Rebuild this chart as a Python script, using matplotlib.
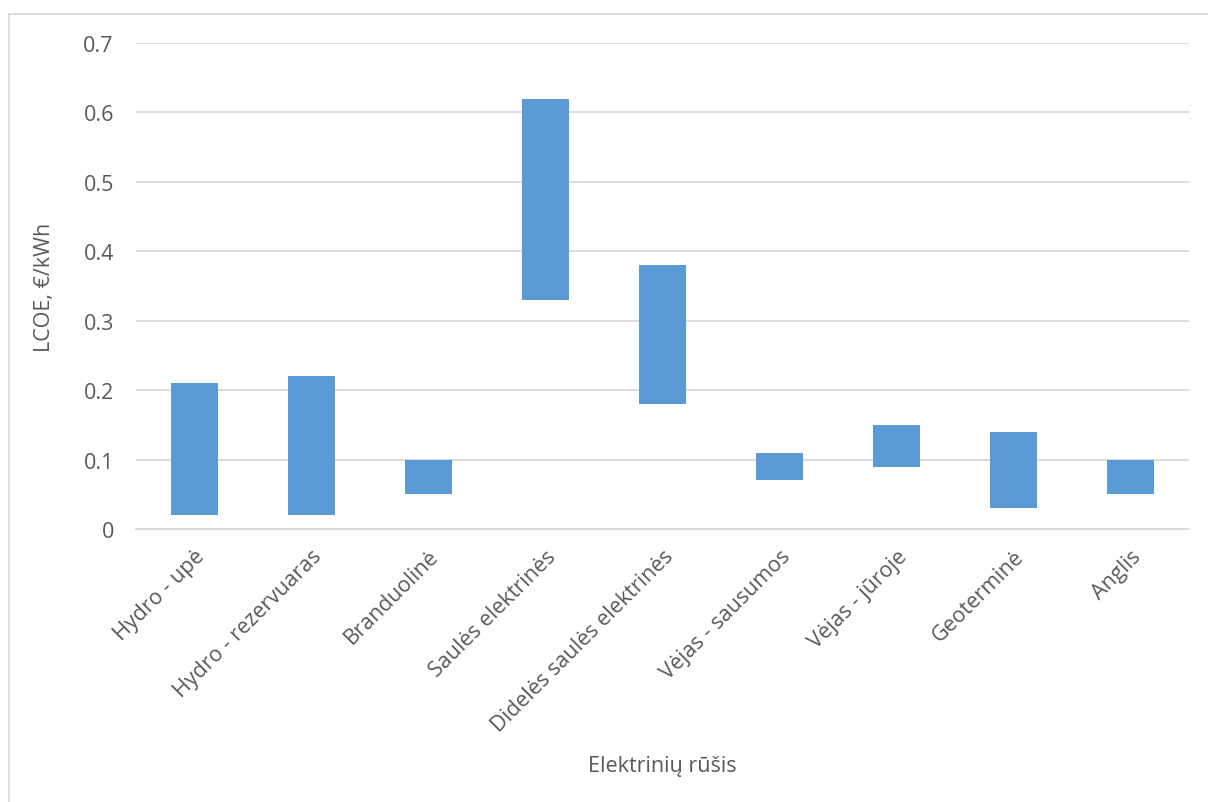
import matplotlib.pyplot as plt
from matplotlib.patches import Rectangle

categories = ["Hydro - upė", "Hydro - rezervuaras", "Branduolinė", "Saulės elektrinės",
              "Didelės saulės elektrinės", "Vėjas - sausumos", "Vėjas - jūroje",
              "Geoterminė", "Anglis"]
low = [0.02, 0.02, 0.05, 0.33, 0.18, 0.07, 0.09, 0.03, 0.05]
high = [0.21, 0.22, 0.10, 0.62, 0.38, 0.11, 0.15, 0.14, 0.10]
yticks = [0, 0.1, 0.2, 0.3, 0.4, 0.5, 0.6, 0.7]
ytick_labels = ["0", "0.1", "0.2", "0.3", "0.4", "0.5", "0.6", "0.7"]

plt.rcParams['font.family'] = ['Open Sans', 'DejaVu Sans']
text_color = "#595959"
fs = 15.5

fig = plt.figure(figsize=(12.08, 8.03), dpi=100)
ax = fig.add_axes([136/1208, 1 - 530/803, 1053/1208, (530-44)/803])

x = list(range(len(categories)))
heights = [h - l for h, l in zip(high, low)]
ax.bar(x, heights, bottom=low, width=0.4, color="#5B9BD5", zorder=3)

ax.set_xlim(-0.5, len(categories) - 0.5)
ax.set_ylim(0, 0.7)
ax.set_yticks(yticks)
ax.set_yticklabels(ytick_labels)
ax.set_xticks(x)
ax.set_xticklabels(categories, rotation=45, ha="right", rotation_mode="anchor")
for lbl in ax.get_xticklabels():
    lbl.set_x(lbl.get_position()[0])

ax.yaxis.grid(True, color="#D9D9D9", linewidth=1.3, zorder=0)
for s in ["top", "right", "left"]:
    ax.spines[s].set_visible(False)
ax.spines["bottom"].set_color("#D9D9D9")
ax.spines["bottom"].set_linewidth(1.3)
ax.tick_params(axis="both", length=0, labelsize=fs, colors=text_color)
ax.tick_params(axis="y", pad=16)
ax.tick_params(axis="x", pad=12)

ax.set_ylabel("LCOE, €/kWh", fontsize=fs, color=text_color, labelpad=20)
ax.set_xlabel("Elektrinių rūšis", fontsize=fs, color=text_color, labelpad=14)

# chart area border
fig.patches.append(Rectangle((9/1208, -0.05), 1.2, 1.05 - 15/803, transform=fig.transFigure,
                             fill=False, edgecolor="#D9D9D9", linewidth=1.3))

fig.savefig("out.png", dpi=100)
